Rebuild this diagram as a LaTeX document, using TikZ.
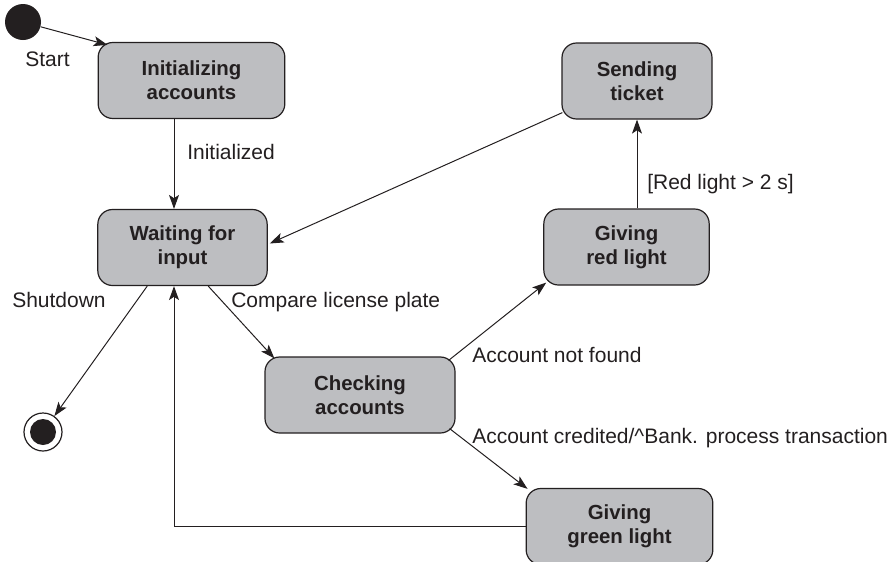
\documentclass[tikz,border=0pt]{standalone}
\usepackage{fontspec}
\setmainfont{Liberation Sans}
\usepackage{xcolor}
\usetikzlibrary{arrows.meta, calc}
\definecolor{stgray}{HTML}{BDBEC1}
\definecolor{stdark}{HTML}{231F20}

\begin{document}
\begin{tikzpicture}[x=0.75pt, y=-0.75pt,
  stbox/.style={rectangle, draw=stdark, fill=stgray, line width=0.9pt, rounded corners=11pt,
    minimum width=#1, minimum height=57pt, align=center, text=stdark,
    font=\fontsize{15.3}{18}\selectfont\bfseries},
  lbl/.style={font=\fontsize{15.75}{18}\selectfont, inner sep=0pt, text=stdark, anchor=base west},
  tr/.style={draw=stdark, line width=0.75pt, -{Stealth[length=10.5pt, width=7.5pt, inset=2.5pt]}},
]
  \useasboundingbox (0,0) rectangle (893,561);

  % states
  \node[circle, fill=stdark, minimum size=27pt, inner sep=0pt] (start) at (23,22) {};
  \node[stbox=140pt] (init) at (191.5,80.5) {Initializing\\accounts};
  \node[stbox=127pt] (wait) at (182.5,247.5) {Waiting for\\input};
  \node[stbox=142.5pt] (check) at (360,395) {Checking\\accounts};
  \node[stbox=124pt] (red) at (626.5,247) {Giving\\red light};
  \node[stbox=112.5pt] (send) at (637,81) {Sending\\ticket};
  \node[stbox=140pt] (green) at (619.5,526.5) {Giving\\green light};
  \node[circle, draw=stdark, fill=white, line width=0.9pt, minimum size=28.5pt, inner sep=0pt] (stop) at (43,432) {};
  \node[circle, fill=stdark, minimum size=19.5pt, inner sep=0pt] (stopin) at (stop) {};

  \coordinate (axis) at (174,0);

  % transitions
  \draw[tr] (start) -- ($(init.north west)+(10,3)$);
  \draw[tr] (init.south -| axis) -- (wait.north -| axis);
  \draw[tr] ($(send.south west)+(1,-7)$) -- ($(wait.east)+(2,-4)$);
  \draw[tr] ($(wait.south west)+(50,0)$) -- (stop);
  \draw[tr] ($(wait.south west)+(111,0)$) -- ($(check.north west)+(10,2)$);
  \draw[tr] ($(check.north east)+(-7,4)$) -- ($(red.south west)+(3,-3)$);
  \draw[tr] ($(check.south east)+(-6,-5)$) -- ($(green.north west)+(2,1)$);
  \draw[tr] (red.north -| send.south) -- (send.south);
  \draw[tr] (green.west) -| (wait.south -| axis);

  % labels
  \node[lbl] (lstart) at (25,66) {Start};
  \node[lbl] (linit) at (187,159) {Initialized};
  \node[lbl] (lshut) at (12,307) {Shutdown};
  \node[lbl] (lcomp) at (231,307) {Compare license plate};
  \node[lbl] (lnf) at (472,362) {Account not found};
  \node[lbl] (lcred) at (472,443) {Account credited/\textasciicircum Bank. process transaction};
  \node[lbl] (lred) at (647,189) {[Red light > 2 s]};
\end{tikzpicture}
\end{document}
